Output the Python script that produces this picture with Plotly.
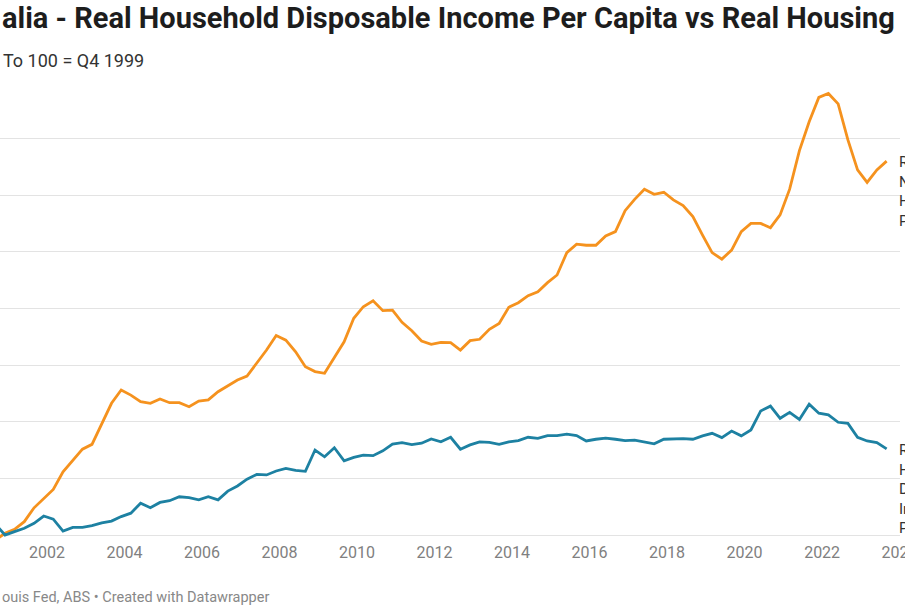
import pandas as pd
import plotly.graph_objects as go

# Quarterly observations (indexed, 100 = Q4 1999)
dates = pd.date_range(start="2000-09-01", periods=93, freq="3MS")

housing = [
    98.2,
    100.6, 102.0, 104.7, 109.6, 113.0, 116.1, 122.3, 126.5, 130.3, 132.0, 139.4, 146.5,
    151.2, 149.4, 147.1, 146.5, 148.0, 146.7, 146.7, 145.3, 147.3, 147.7, 150.6, 152.6,
    154.7, 156.1, 160.6, 165.3, 170.4, 168.8, 164.7, 159.4, 157.7, 157.1, 162.7, 168.2,
    176.5, 180.6, 182.7, 179.2, 179.4, 175.1, 172.1, 168.5, 167.3, 168.0, 167.9,
    165.3, 168.6, 169.1, 172.6, 174.7, 180.4, 182.0, 184.5, 185.9, 189.1, 191.8, 199.7,
    202.7, 202.3, 202.3, 205.6, 207.1, 214.5, 218.5,
    222.1, 220.3, 221.0, 218.3, 216.3, 212.4, 205.9, 199.7, 197.4, 200.6, 207.1, 210.0,
    210.0, 208.5, 213.0, 222.1, 235.7, 245.9, 254.5, 255.9, 252.2, 239.5, 228.9, 224.5,
    228.9, 232.0,
]

income = [
    103.8,
    100.0, 101.2, 102.4, 104.1, 106.7, 105.6, 101.4, 102.7, 102.7, 103.3, 104.3, 104.9,
    106.5, 107.7, 111.2, 109.6, 111.5, 112.1, 113.5, 113.2, 112.4, 113.5, 112.4,
    115.5, 117.3, 119.7, 121.4, 121.2, 122.6, 123.5, 122.8, 122.5, 130.0, 127.6, 130.8,
    126.2, 127.4, 128.2, 128.0, 129.7, 132.1, 132.6, 131.9, 132.4, 133.9, 132.9, 134.5,
    130.3, 131.8, 132.9, 132.7, 132.0, 132.9, 133.3, 134.5, 134.1, 135.1, 135.1, 135.6,
    135.1, 133.2, 133.8, 134.2, 133.8, 133.3, 133.5, 132.9, 132.2,
    133.8, 134.0, 134.0, 133.8, 135.0, 135.9, 134.4, 136.7, 135.0, 137.1, 143.8, 145.5,
    141.2, 143.3, 140.8, 146.2, 143.0, 142.4, 139.8, 139.4, 134.5, 133.2, 132.6, 130.4,
]

year_ticks = ["2002", "2004", "2006", "2008", "2010", "2012", "2014", "2016",
              "2018", "2020", "2022", "2024"]
grid_values = [100, 120, 140, 160, 180, 200, 220, 240]

title_text = "alia - Real Household Disposable Income Per Capita vs Real Housing"
subtitle_text = "To 100 = Q4 1999"
footer_text = "ouis Fed, ABS \u2022 Created with Datawrapper"
housing_label = "R<br>N<br>H<br>P"
income_label = "R<br>H<br>D<br>In<br>P"

ORANGE = "#f5921e"
BLUE = "#1d81a2"

fig = go.Figure()
fig.add_trace(go.Scatter(x=dates, y=housing, mode="lines",
                         line=dict(color=ORANGE, width=2.8), hoverinfo="skip"))
fig.add_trace(go.Scatter(x=dates, y=income, mode="lines",
                         line=dict(color=BLUE, width=2.8), hoverinfo="skip"))

W, H = 905, 613
top, bottom = 80, 541
ph = bottom - top


def py(p):
    return (bottom - p) / ph


annos = [
    dict(text=title_text, x=0, y=py(18), xref="paper", yref="paper",
         xanchor="left", yanchor="middle", showarrow=False,
         font=dict(family="Roboto", size=29, color="#1d1d1d", weight=700)),
    dict(text=subtitle_text, x=1 / W, y=py(60), xref="paper", yref="paper",
         xanchor="left", yanchor="middle", showarrow=False,
         font=dict(family="Roboto", size=18, color="#333333")),
    dict(text=footer_text, x=0, y=py(597), xref="paper", yref="paper",
         xanchor="left", yanchor="middle", showarrow=False,
         font=dict(family="Roboto", size=14.5, color="#888888")),
    dict(text=housing_label, x=dates[-1], y=housing[-1], xref="x", yref="y",
         xanchor="left", yanchor="top", xshift=10, yshift=10, showarrow=False,
         align="left", font=dict(family="Roboto", size=15, color="#333333")),
    dict(text=income_label, x=dates[-1], y=income[-1], xref="x", yref="y",
         xanchor="left", yanchor="top", xshift=10, yshift=10, showarrow=False,
         align="left", font=dict(family="Roboto", size=15, color="#333333")),
]

fig.update_layout(
    template="none",
    width=W, height=H,
    margin=dict(l=0, r=0, t=top, b=H - bottom, pad=0, autoexpand=False),
    paper_bgcolor="white", plot_bgcolor="white",
    showlegend=False,
    annotations=annos,
    font=dict(family="Roboto"),
    xaxis=dict(
        type="date",
        automargin=False,
        domain=[0, 899.9 / W],
        range=["2000-10-15", "2024-01-04"],
        tickvals=[y + "-01-01" for y in year_ticks],
        ticktext=year_ticks,
        ticklabeloverflow="allow",
        showgrid=False, zeroline=False, showline=False, ticks="",
        tickfont=dict(family="Roboto", size=16, color="#808080"),
    ),
    yaxis=dict(
        automargin=False,
        range=[97.88, 260.64],
        tickvals=grid_values,
        showticklabels=False,
        showgrid=True, gridcolor="#e3e3e3", gridwidth=1,
        zeroline=False, showline=False, ticks="",
    ),
)

fig.write_html("out.html", config={"displayModeBar": False},
               post_script="document.body.style.margin='0';")
